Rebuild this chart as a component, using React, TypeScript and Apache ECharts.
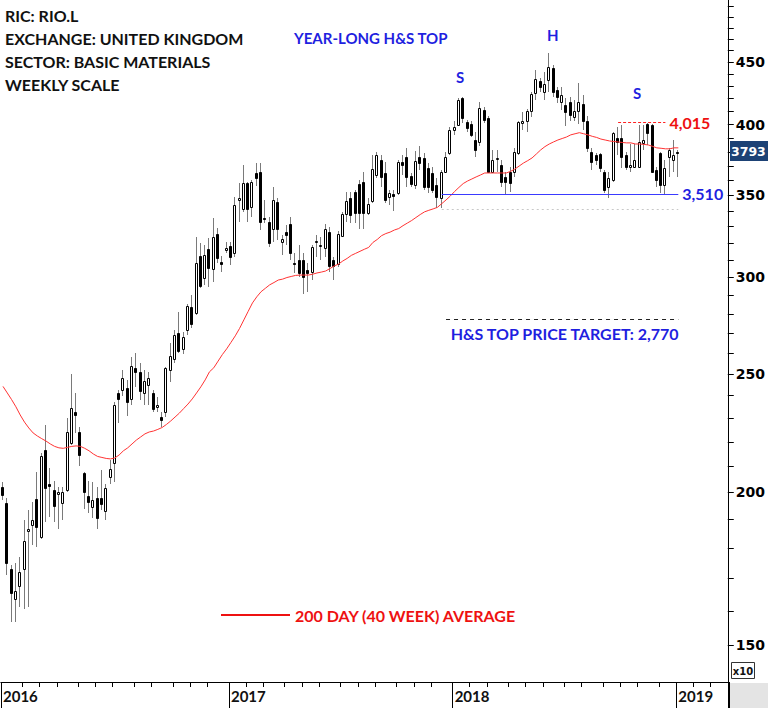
import React, { useEffect, useRef } from 'react';
import * as echarts from 'echarts';

// Weekly candles (values in the axis units, i.e. price / 10): [open, close, low, high]
const ohlc: number[][] = [
  [202, 199, 197, 204], [196, 175, 171, 198], [173, 165.5, 156.5, 174.5], [163.5, 166, 156.5, 175],
  [167.5, 172, 161, 177], [173, 182.5, 160.5, 190], [186, 186.5, 161, 193.5], [188, 190, 181, 196.5],
  [197.5, 187.5, 180.5, 208], [184, 214, 183, 215.5], [216.5, 201.5, 189, 227], [203, 202.5, 191, 209.5],
  [201, 195, 189, 204.5], [199.5, 200, 186.5, 202], [196, 200, 190, 202], [201, 224, 200, 230],
  [219.5, 234.5, 218.5, 250], [232.5, 231.5, 223.5, 241], [224, 214.5, 210, 226], [207.5, 200, 194, 208],
  [198.5, 196.5, 192.5, 204.5], [194.5, 197, 190.5, 204], [198, 190.5, 186.5, 202], [198, 195.5, 193.5, 208.5],
  [193, 201.5, 190, 203], [206, 209, 203, 212.5], [211.5, 236, 204, 237], [241, 238.5, 228, 242.5],
  [242.5, 248, 240, 252], [243.5, 237, 231, 247], [238.5, 254, 236, 258], [253, 251, 244, 260],
  [251, 242, 238, 255], [241, 246.5, 236, 252], [245, 248, 236, 251], [241, 234, 232.5, 242.5],
  [235, 236, 232.5, 239.5], [230.5, 229, 226, 232.5], [232.5, 253, 230.5, 253.5], [252, 258.5, 246, 265],
  [257, 269, 255, 271.5], [270, 261, 260, 281], [262, 268, 259.5, 270.5], [271.5, 284, 269, 285],
  [283.5, 274.5, 272.5, 290], [280.5, 308, 279.5, 323.5], [312.5, 295, 294, 320], [299.5, 313, 295.5, 319],
  [316.5, 305.5, 294.5, 323], [304.5, 323.5, 297.5, 335.5], [325.5, 311, 308, 329], [308.5, 307.5, 303, 312.5],
  [316, 317, 314, 320.5], [318, 311.5, 307, 320.5], [314, 344, 311.5, 349], [347, 348, 333, 358],
  [341, 358.5, 339, 370.5], [358.5, 341, 333, 359], [342.5, 359, 336, 360], [365, 361.5, 356, 372],
  [366, 333, 328, 372], [335.5, 334.5, 332.5, 347], [333, 320, 317.5, 336], [328.5, 347, 320.5, 355.5],
  [345.5, 328.5, 322, 348.5], [320.5, 322.5, 313, 325], [326.5, 325, 319, 331], [331.5, 314, 310, 336],
  [308, 307.5, 302.5, 314], [310, 302.5, 300, 319], [310, 300, 290.5, 314], [304, 302.5, 292, 308],
  [303, 317.5, 298.5, 319], [320.5, 321, 311.5, 325], [318, 318.5, 310, 323.5], [317, 328.5, 311.5, 331.5],
  [326.5, 306.5, 303, 330], [310, 306.5, 298.5, 311.5], [307.5, 325.5, 306, 327], [324.5, 338, 323.5, 339.5],
  [338, 346.5, 333, 352], [348.5, 337.5, 332.5, 352], [352, 338.5, 332.5, 353.5], [357.5, 338.5, 328.5, 360.5],
  [359, 338.5, 328.5, 366], [338.5, 344.5, 337.5, 348.5], [346.5, 368, 345, 377.5], [363.5, 377.5, 361.5, 380],
  [374, 362.5, 355.5, 377.5], [365, 347, 345, 372.5], [349, 351.5, 344, 353.5], [351, 349.5, 340, 353.5],
  [351.5, 372.5, 350.5, 374], [372.5, 370.5, 363.5, 377.5], [376, 362.5, 355.5, 383], [363, 357.5, 355.5, 365],
  [357, 373.5, 354.5, 380.5], [376, 372, 367, 384.5], [375.5, 355.5, 353.5, 379], [368.5, 355.5, 351.5, 372],
  [365, 353.5, 351.5, 369], [357, 349, 342, 362], [348.5, 366, 342, 367], [366, 376, 365, 380],
  [379, 396, 377.5, 398], [396, 398, 392, 402.5], [399.5, 419, 399, 420.5], [420.5, 405, 401, 421],
  [402, 397.5, 394.5, 403.5], [400.5, 392.5, 391, 402.5], [388.5, 381.5, 376.5, 394.5], [387, 412.5, 384.5, 417.5],
  [411, 403.5, 401, 413.5], [405, 366, 365, 406.5], [366, 374, 365, 381.5], [374.5, 375.5, 366, 381.5],
  [370.5, 359, 355.5, 374], [362.5, 359, 350.5, 366], [366, 358.5, 352, 369], [366, 380, 362.5, 383],
  [379, 402, 377.5, 402.5], [401, 402.5, 396, 409.5], [402.5, 410.5, 394.5, 412], [410.5, 423.5, 405.5, 425.5],
  [424.5, 436, 419, 443.5], [434, 429, 425.5, 436.5], [425.5, 431.5, 419, 441.5], [435, 446, 425.5, 458],
  [445, 425.5, 421, 447.5], [427, 421, 416.5, 429.5], [417.5, 423, 411, 429.5], [415, 409.5, 399, 420.5],
  [417.5, 407.5, 402.5, 421], [405.5, 410.5, 402.5, 419], [410.5, 417.5, 400.5, 432.5], [416, 402.5, 396, 423],
  [402.5, 383, 380, 406.5], [380, 372.5, 367, 383], [377.5, 374, 370.5, 379], [378.5, 368.5, 366, 379],
  [366, 353.5, 351.5, 367], [355.5, 361.5, 348.5, 366], [360.5, 394, 359, 394.5], [390, 387, 377.5, 398],
  [390, 376.5, 368.5, 399.5], [377.5, 369, 367, 380], [369, 370.5, 366, 385.5], [369, 374, 368.5, 385.5],
  [369, 387, 368.5, 399.5], [386.5, 388.5, 381.5, 399.5], [400.5, 394, 385, 401.5], [399.5, 366, 365, 400.5],
  [367, 360.5, 355.5, 369], [379, 357, 351.5, 380], [357, 368.5, 350, 374], [376.5, 381.5, 362.5, 383],
  [374, 377.5, 366, 388.5], [380, 379.3, 362.5, 381],
];

// 40-week moving average
const ma40: number[] = [
  244.2, 241.2, 238.2, 235.0, 231.4, 228.3, 225.8, 223.7, 222.4, 221.3,
  220.3, 219.1, 218.1, 217.5, 217.3, 217.7, 218.1, 218.3, 218.1, 217.3,
  216.3, 215.0, 214.0, 213.6, 213.2, 213.0, 213.4, 214.6, 216.3, 217.5,
  219.1, 220.7, 222.0, 223.3, 224.1, 224.5, 225.2, 226.0, 227.3, 228.8,
  230.5, 232.2, 234.2, 236.2, 238.5, 241.2, 244.0, 247.2, 251.0, 252.9,
  256.1, 259.3, 262.1, 265.3, 268.6, 272.4, 276.8, 281.3, 285.8, 289.1,
  291.9, 293.8, 295.7, 297.0, 298.4, 298.9, 299.8, 300.4, 301.0, 301.2,
  301.2, 301.2, 301.7, 302.4, 302.9, 303.5, 304.9, 306.4, 307.5, 309.3,
  310.8, 312.6, 313.8, 315.0, 316.2, 317.3, 320.3, 322.1, 324.4, 325.7,
  326.6, 327.9, 328.8, 330.6, 332.2, 333.8, 335.7, 337.6, 339.3, 340.3,
  341.2, 342.2, 344.6, 347.0, 349.6, 352.6, 355.3, 357.9, 359.6, 361.0,
  362.4, 363.7, 365.1, 365.1, 365.1, 365.1, 365.1, 365.1, 366.2, 367.8,
  369.9, 372.0, 373.7, 375.6, 378.4, 381.3, 383.7, 385.6, 387.1, 388.5,
  389.6, 390.7, 392.3, 393.1, 393.9, 393.1, 392.3, 391.2, 390.4, 389.2,
  388.5, 387.8, 387.4, 387.1, 386.7, 386.4, 386.4, 385.6, 385.6, 385.3,
  384.9, 383.9, 382.8, 382.5, 382.1, 382.1, 382.8, 382.8,
];

const yTickValues = [150, 160, 170, 180, 190, 200, 210, 220, 230, 240, 250, 260, 270, 280, 290, 300,
  310, 320, 330, 340, 350, 360, 370, 380, 390, 400, 410, 420, 430, 440, 450, 460, 470, 480, 490, 500];
const yLabelValues = [150, 200, 250, 300, 350, 400, 450];

const supportLevel = 351.0;    // 3,510
const resistanceLevel = 401.5; // 4,015
const lowGuideLevel = 341.0;
const targetLevel = 277.0;     // 2,770
const lastPrice = 379.3;       // 3793

const TOTAL_WEEKS = 169;
const firstWeek = Date.UTC(2016, 0, 1);
const weeks: string[] = [];
for (let i = 0; i < TOTAL_WEEKS; i++) {
  weeks.push(new Date(firstWeek + i * 7 * 86400000).toISOString().slice(0, 10));
}

const BLUE = '#1f1fe0';
const RED = '#ee1111';
const TXT = 'Lato, "Open Sans", sans-serif';

const fmtK = (v: number) => Math.round(v * 10).toLocaleString('en-US');
const isMonthStart = (v: string) => Number(v.slice(8, 10)) <= 7;
const isYearStart = (v: string) => v.slice(5, 7) === '01' && Number(v.slice(8, 10)) <= 7;

export default function App() {
  const ref = useRef<HTMLDivElement>(null);
  useEffect(() => {
    if (!ref.current) return;
    const chart = echarts.init(ref.current, null, { renderer: 'svg' });
    const L = Math.log;
    const lvlLabel = (color: string) => ({
      show: true, position: 'end', distance: 4, color, fontFamily: TXT, fontWeight: 'bold', fontSize: 16,
    });
    const option: any = {
      animation: false,
      backgroundColor: '#ffffff',
      grid: { left: 0, right: 39, top: 0, bottom: 26, containLabel: false },
      legend: {
        show: true, left: 216, top: 602, selectedMode: false,
        itemWidth: 69, itemHeight: 2,
        data: [{ name: '200 DAY (40 WEEK) AVERAGE', icon: 'rect', itemStyle: { color: RED } }],
        textStyle: { color: RED, fontFamily: TXT, fontWeight: 'bold', fontSize: 16 },
      },
      xAxis: [
        {
          type: 'category', data: weeks, boundaryGap: true, position: 'bottom',
          axisLine: { show: true, onZero: false, lineStyle: { color: '#000', width: 1 } },
          axisTick: { show: true, interval: (_i: number, v: string) => isMonthStart(v), length: 5, lineStyle: { color: '#000' } },
          axisLabel: { show: false },
          splitLine: { show: false },
        },
        {
          type: 'category', data: weeks, boundaryGap: true, position: 'bottom',
          axisLine: { show: false, onZero: false },
          axisTick: { show: true, interval: (_i: number, v: string) => isYearStart(v), length: 26, lineStyle: { color: '#000' } },
          axisLabel: {
            show: true, interval: (_i: number, v: string) => isYearStart(v),
            formatter: (v: string) => v.slice(0, 4), align: 'left', margin: 6,
            color: '#111', fontFamily: TXT, fontWeight: 'bold', fontSize: 15,
          },
          splitLine: { show: false },
        },
      ],
      yAxis: {
        type: 'value', position: 'right', scale: true,
        min: Math.log(139.9), max: Math.log(505.8),
        axisLine: { show: true, lineStyle: { color: '#000', width: 1 } },
        axisTick: { show: true, length: 6, customValues: yTickValues.map((v) => L(v)), lineStyle: { color: '#000' } },
        axisLabel: {
          show: true, customValues: yLabelValues.map((v) => L(v)),
          formatter: (v: number) => String(Math.round(Math.exp(v))),
          margin: 8, color: '#000', fontFamily: '"DejaVu Sans", Verdana, sans-serif', fontWeight: 'bold', fontSize: 14,
        },
        splitLine: { show: false },
      },
      series: [
        {
          type: 'custom', name: 'RIO.L', xAxisIndex: 0, yAxisIndex: 0, z: 2, clip: true,
          data: ohlc.map((d, i) => [i, L(d[0]), L(d[1]), L(d[2]), L(d[3])]),
          encode: { x: 0, y: [1, 2, 3, 4] },
          renderItem: (_params: any, api: any) => {
            const i = api.value(0);
            const o = api.value(1), c = api.value(2), lo = api.value(3), hi = api.value(4);
            const pO = api.coord([i, o]);
            const pC = api.coord([i, c]);
            const pL = api.coord([i, lo]);
            const pH = api.coord([i, hi]);
            const cx = Math.round(pO[0]);
            const top = Math.round(Math.min(pO[1], pC[1]));
            const bot = Math.round(Math.max(pO[1], pC[1]));
            const up = c >= o;
            return {
              type: 'group',
              children: [
                { type: 'line', shape: { x1: cx - 0.5, y1: Math.round(pH[1]), x2: cx - 0.5, y2: Math.round(pL[1]) },
                  style: { stroke: '#7a7a7a', lineWidth: 1 } },
                { type: 'rect', shape: { x: cx - 1.5, y: top + 0.5, width: 2, height: Math.max(bot - top, 1) },
                  style: { fill: up ? '#ffffff' : '#000000', stroke: '#000000', lineWidth: 1 } },
              ],
            };
          },
        },
        {
          type: 'line', name: '200 DAY (40 WEEK) AVERAGE', xAxisIndex: 0, yAxisIndex: 0, z: 4,
          data: ma40.map((v) => L(v)), symbol: 'none', smooth: false,
          lineStyle: { color: '#ff3333', width: 1 }, itemStyle: { color: RED },
          markLine: {
            silent: true, symbol: ['none', 'none'], animation: false,
            data: [
              [
                { coord: [102, L(supportLevel)], lineStyle: { color: '#3a3aff', width: 1, type: 'solid' },
                  label: { ...lvlLabel(BLUE), formatter: fmtK(supportLevel) } },
                { coord: [157, L(supportLevel)] },
              ],
              [
                { coord: [143, L(resistanceLevel)], lineStyle: { color: '#ff2222', width: 1, type: [3, 2] },
                  label: { ...lvlLabel(RED), formatter: fmtK(resistanceLevel) } },
                { coord: [154, L(resistanceLevel)] },
              ],
              [
                { coord: [102, L(lowGuideLevel)], lineStyle: { color: '#c8c8c8', width: 1, type: [2, 3] }, label: { show: false } },
                { coord: [157, L(lowGuideLevel)] },
              ],
              [
                { coord: [103, L(targetLevel)], lineStyle: { color: '#222', width: 1, type: [4, 4] }, label: { show: false } },
                { coord: [157, L(targetLevel)] },
              ],
            ],
          },
        },
      ],
      graphic: [
        { type: 'text', left: 5, top: 7, style: { text: 'RIC: RIO.L', fill: '#111', font: `bold 16px ${TXT}` } },
        { type: 'text', left: 5, top: 30, style: { text: 'EXCHANGE: UNITED KINGDOM', fill: '#111', font: `bold 16px ${TXT}` } },
        { type: 'text', left: 5, top: 53, style: { text: 'SECTOR: BASIC MATERIALS', fill: '#111', font: `bold 16px ${TXT}` } },
        { type: 'text', left: 5, top: 76, style: { text: 'WEEKLY SCALE', fill: '#111', font: `bold 16px ${TXT}` } },
        { type: 'text', left: 294, top: 30, style: { text: 'YEAR-LONG H&S TOP', fill: BLUE, font: `bold 15px ${TXT}` } },
        { type: 'text', left: 456, top: 69, style: { text: 'S', fill: BLUE, font: `bold 15px ${TXT}` } },
        { type: 'text', left: 547, top: 27, style: { text: 'H', fill: BLUE, font: `bold 15px ${TXT}` } },
        { type: 'text', left: 633, top: 85, style: { text: 'S', fill: BLUE, font: `bold 15px ${TXT}` } },
        { type: 'text', right: 88, top: 325, style: { text: 'H&S TOP PRICE TARGET: ' + fmtK(targetLevel), fill: BLUE, font: `bold 16px ${TXT}` } },
        { type: 'rect', shape: { x: 730, y: 683, width: 38, height: 25 }, style: { fill: '#e4e4e4', stroke: 'none' }, z: 10 },
        { type: 'line', shape: { x1: 729.5, y1: 682, x2: 729.5, y2: 708 }, style: { stroke: '#000', lineWidth: 1 }, z: 11 },
        { type: 'rect', shape: { x: 731.5, y: 662.5, width: 23, height: 16 }, style: { fill: '#fff', stroke: '#333', lineWidth: 1 }, z: 11 },
        { type: 'text', x: 743, y: 671, style: { text: 'x10', fill: '#111', font: 'bold 10px "DejaVu Sans", sans-serif', textAlign: 'center', textVerticalAlign: 'middle' }, z: 12 },
        { type: 'rect', shape: { x: 730, y: 141, width: 38, height: 20 }, style: { fill: '#1d4275' }, z: 11 },
        { type: 'text', x: 731, y: 151.5, style: { text: String(Math.round(lastPrice * 10)), fill: '#fff', font: 'bold 12.5px "DejaVu Sans", sans-serif', textVerticalAlign: 'middle' }, z: 12 },
      ],
    };
    chart.setOption(option);
    return () => chart.dispose();
  }, []);
  return <div ref={ref} style={{ position: 'fixed', left: 0, top: 0, width: 768, height: 708 }} />;
}
